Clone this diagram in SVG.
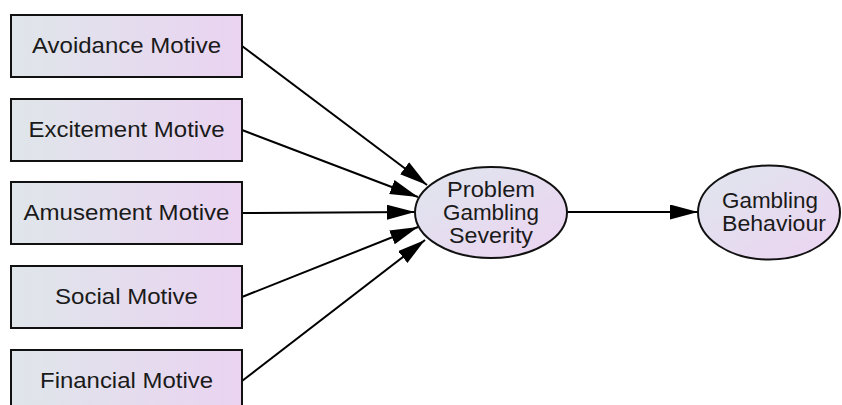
<svg xmlns="http://www.w3.org/2000/svg" width="842" height="405" viewBox="0 0 842 405">
<defs>
<linearGradient id="gBox" x1="0" y1="0" x2="1" y2="0">
<stop offset="0" stop-color="#dfe6ea"/>
<stop offset="1" stop-color="#ead3f1"/>
</linearGradient>
<linearGradient id="gEll" x1="0" y1="0" x2="1" y2="1">
<stop offset="0" stop-color="#dfe6ee"/>
<stop offset="1" stop-color="#ecd3f1"/>
</linearGradient>
<marker id="arr" markerUnits="userSpaceOnUse" markerWidth="30" markerHeight="18" refX="28" refY="7.5" orient="auto">
<path d="M0,0 L28,7.5 L0,15 z" fill="#000"/>
</marker>
<style>
.box{fill:url(#gBox);stroke:#111;stroke-width:2}
.ell{fill:url(#gEll);stroke:#111;stroke-width:2}
.t{font-family:"Liberation Sans",Arial,sans-serif;font-size:22px;fill:#1a1a1a;text-anchor:middle}
.c{stroke:#000;stroke-width:2;fill:none;marker-end:url(#arr)}
</style>
</defs>
<g id="connectors">
<line class="c" x1="242" y1="46" x2="427" y2="185"/>
<line class="c" x1="242" y1="130" x2="418" y2="197"/>
<line class="c" x1="242" y1="213" x2="415" y2="212"/>
<line class="c" x1="242" y1="297" x2="418" y2="227"/>
<line class="c" x1="242" y1="381" x2="425" y2="240"/>
<line class="c" x1="567" y1="212" x2="698" y2="212"/>
</g>
<g id="avoidance">
<rect class="box" x="11" y="15" width="231" height="62"/>
<text class="t" x="126.5" y="53" textLength="189" lengthAdjust="spacingAndGlyphs">Avoidance Motive</text>
</g>
<g id="excitement">
<rect class="box" x="11" y="99" width="231" height="62"/>
<text class="t" x="126.5" y="137" textLength="196" lengthAdjust="spacingAndGlyphs">Excitement Motive</text>
</g>
<g id="amusement">
<rect class="box" x="11" y="182" width="231" height="62"/>
<text class="t" x="126.5" y="220" textLength="206" lengthAdjust="spacingAndGlyphs">Amusement Motive</text>
</g>
<g id="social">
<rect class="box" x="11" y="266" width="231" height="62"/>
<text class="t" x="126.5" y="304" textLength="143" lengthAdjust="spacingAndGlyphs">Social Motive</text>
</g>
<g id="financial">
<rect class="box" x="11" y="350" width="231" height="62"/>
<text class="t" x="126.5" y="388" textLength="173" lengthAdjust="spacingAndGlyphs">Financial Motive</text>
</g>
<g id="pgs">
<ellipse class="ell" cx="491" cy="212.5" rx="76" ry="45.5"/>
<text class="t" x="491" y="197" textLength="88" lengthAdjust="spacingAndGlyphs">Problem</text>
<text class="t" x="491" y="220" textLength="96" lengthAdjust="spacingAndGlyphs">Gambling</text>
<text class="t" x="491" y="243" textLength="84" lengthAdjust="spacingAndGlyphs">Severity</text>
</g>
<g id="behaviour">
<ellipse class="ell" cx="769" cy="212.5" rx="71" ry="47"/>
<text class="t" x="770" y="208" textLength="96" lengthAdjust="spacingAndGlyphs">Gambling</text>
<text class="t" x="774" y="231" textLength="104" lengthAdjust="spacingAndGlyphs">Behaviour</text>
</g>
</svg>
